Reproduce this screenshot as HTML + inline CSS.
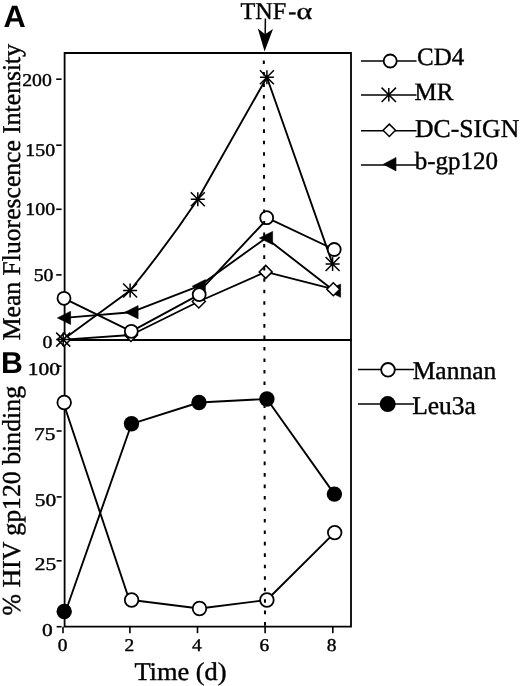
<!DOCTYPE html><html><head><meta charset="utf-8"><style>html,body{margin:0;padding:0;background:#fff;}svg{display:block;filter:grayscale(1)}text{text-rendering:geometricPrecision}</style></head><body>
<svg width="520" height="686" viewBox="0 0 520 686">
<rect width="520" height="686" fill="#fff"/>
<text x="3.4" y="27.4" font-family="Liberation Sans" font-weight="bold" font-size="30.8">A</text>
<text x="1.0" y="373.2" font-family="Liberation Sans" font-weight="bold" font-size="30.3">B</text>
<text x="240.4" y="18.6" font-family="Liberation Serif" stroke="#000" stroke-width="0.4" font-size="24.2">TNF</text>
<text x="288.3" y="18.6" font-family="Liberation Serif" stroke="#000" stroke-width="0.4" font-size="24.2">-</text>
<text transform="translate(296.6,18.7) scale(1.2,0.94)" font-family="Liberation Serif" stroke="#000" stroke-width="0.4" font-size="25">α</text>
<path d="M265.4 18.5L265.2 34" stroke="#000" stroke-width="1.5"/>
<path d="M257.8 28.4L265.1 34.3L273 29L264.6 51.6Z" fill="#000"/>
<path d="M64.6 53H351V340H64.6Z" fill="none" stroke="#000" stroke-width="1.8"/>
<path d="M64.6 340V626.7H351V340" fill="none" stroke="#000" stroke-width="1.8"/>
<path d="M56.2 79.2H61.6" stroke="#000" stroke-width="1.6"/>
<path d="M56.2 145.2H61.6" stroke="#000" stroke-width="1.6"/>
<path d="M56.2 209.3H61.6" stroke="#000" stroke-width="1.6"/>
<path d="M56.2 274.9H61.6" stroke="#000" stroke-width="1.6"/>
<path d="M56.6 366.2H61.6" stroke="#000" stroke-width="1.6"/>
<path d="M56.6 431.0H61.6" stroke="#000" stroke-width="1.6"/>
<path d="M56.6 496.9H61.6" stroke="#000" stroke-width="1.6"/>
<path d="M56.6 560.8H61.6" stroke="#000" stroke-width="1.6"/>
<path d="M56.6 626.7H61.6" stroke="#000" stroke-width="1.6"/>
<path d="M63.0 626.7V633.2" stroke="#000" stroke-width="1.6"/>
<path d="M129.9 626.7V633.2" stroke="#000" stroke-width="1.6"/>
<path d="M197.5 626.7V633.2" stroke="#000" stroke-width="1.6"/>
<path d="M265.1 626.7V633.2" stroke="#000" stroke-width="1.6"/>
<path d="M332.8 626.7V633.2" stroke="#000" stroke-width="1.6"/>
<text transform="translate(37.05,86.20) scale(1.100,1)" font-family="Liberation Serif" stroke="#000" stroke-width="0.4" font-size="18" text-anchor="middle">200</text>
<text transform="translate(40.20,156.00) scale(1.100,1)" font-family="Liberation Serif" stroke="#000" stroke-width="0.4" font-size="18" text-anchor="middle">150</text>
<text transform="translate(40.20,215.30) scale(1.100,1)" font-family="Liberation Serif" stroke="#000" stroke-width="0.4" font-size="18" text-anchor="middle">100</text>
<text transform="translate(43.55,281.20) scale(1.100,1)" font-family="Liberation Serif" stroke="#000" stroke-width="0.4" font-size="18" text-anchor="middle">50</text>
<text transform="translate(47.40,347.70) scale(1.100,1)" font-family="Liberation Serif" stroke="#000" stroke-width="0.4" font-size="18" text-anchor="middle">0</text>
<text transform="translate(43.80,375.10) scale(1.190,1)" font-family="Liberation Serif" stroke="#000" stroke-width="0.4" font-size="18" text-anchor="middle">100</text>
<text transform="translate(44.80,440.30) scale(1.190,1)" font-family="Liberation Serif" stroke="#000" stroke-width="0.4" font-size="18" text-anchor="middle">75</text>
<text transform="translate(45.50,505.80) scale(1.190,1)" font-family="Liberation Serif" stroke="#000" stroke-width="0.4" font-size="18" text-anchor="middle">50</text>
<text transform="translate(45.50,570.30) scale(1.190,1)" font-family="Liberation Serif" stroke="#000" stroke-width="0.4" font-size="18" text-anchor="middle">25</text>
<text transform="translate(47.40,635.80) scale(1.190,1)" font-family="Liberation Serif" stroke="#000" stroke-width="0.4" font-size="18" text-anchor="middle">0</text>
<text transform="translate(62.50,651.20) scale(1.080,1)" font-family="Liberation Serif" stroke="#000" stroke-width="0.4" font-size="18" text-anchor="middle">0</text>
<text transform="translate(129.35,651.20) scale(1.080,1)" font-family="Liberation Serif" stroke="#000" stroke-width="0.4" font-size="18" text-anchor="middle">2</text>
<text transform="translate(196.90,651.20) scale(1.080,1)" font-family="Liberation Serif" stroke="#000" stroke-width="0.4" font-size="18" text-anchor="middle">4</text>
<text transform="translate(264.40,651.20) scale(1.080,1)" font-family="Liberation Serif" stroke="#000" stroke-width="0.4" font-size="18" text-anchor="middle">6</text>
<text transform="translate(331.65,651.20) scale(1.080,1)" font-family="Liberation Serif" stroke="#000" stroke-width="0.4" font-size="18" text-anchor="middle">8</text>
<text transform="translate(20.4,340.2) rotate(-90)" font-family="Liberation Serif" stroke="#000" stroke-width="0.4" font-size="25.65">Mean Fluorescence Intensity</text>
<text transform="translate(20,615.5) rotate(-90)" font-family="Liberation Serif" stroke="#000" stroke-width="0.4" font-size="25.8">% HIV gp120 binding</text>
<text transform="translate(134.4,679.7) scale(1.035,1)" x="0" y="0" font-family="Liberation Serif" stroke="#000" stroke-width="0.4" font-size="25.5">Time (d)</text>
<path d="M64.0 317.9L131.5 312.2" stroke="#000" stroke-width="1.9" stroke-linecap="round"/>
<path d="M131.5 312.2L198.8 286.2" stroke="#000" stroke-width="1.9" stroke-linecap="round"/>
<path d="M198.8 286.2L266.0 238.0" stroke="#000" stroke-width="1.9" stroke-linecap="round"/>
<path d="M266.0 238.0L334.0 290.7" stroke="#000" stroke-width="1.9" stroke-linecap="round"/>
<path d="M64.0 339.6L131.0 335.0" stroke="#000" stroke-width="1.9" stroke-linecap="round"/>
<path d="M131.0 335.0L198.8 301.5" stroke="#000" stroke-width="1.9" stroke-linecap="round"/>
<path d="M198.8 301.5L265.7 271.9" stroke="#000" stroke-width="1.9" stroke-linecap="round"/>
<path d="M265.7 271.9L333.3 289.2" stroke="#000" stroke-width="1.9" stroke-linecap="round"/>
<path d="M63.2 339.6L130.1 290.5" stroke="#000" stroke-width="1.9" stroke-linecap="round"/>
<path d="M130.1 290.5Q166.0 246.5 197.8 199.2" fill="none" stroke="#000" stroke-width="1.9" stroke-linecap="round"/>
<path d="M197.8 199.2L266.9 77.2" stroke="#000" stroke-width="1.9" stroke-linecap="round"/>
<path d="M266.9 77.2L332.6 264.0" stroke="#000" stroke-width="1.9" stroke-linecap="round"/>
<path d="M64.0 298.3L131.3 331.3" stroke="#000" stroke-width="1.9" stroke-linecap="round"/>
<path d="M131.3 331.3L199.2 294.6" stroke="#000" stroke-width="1.9" stroke-linecap="round"/>
<path d="M199.2 291.6L266.7 219.5" stroke="#000" stroke-width="1.9" stroke-linecap="round"/>
<path d="M266.7 217.7L334.2 249.5" stroke="#000" stroke-width="1.9" stroke-linecap="round"/>
<path d="M57.4 317.9L70.6 311.3L70.6 324.5Z" fill="#000" stroke="#000" stroke-width="0.6" stroke-linejoin="miter"/>
<path d="M124.9 312.2L138.1 305.6L138.1 318.8Z" fill="#000" stroke="#000" stroke-width="0.6" stroke-linejoin="miter"/>
<path d="M192.2 286.2L205.4 279.6L205.4 292.8Z" fill="#000" stroke="#000" stroke-width="0.6" stroke-linejoin="miter"/>
<path d="M259.4 238.0L272.6 231.4L272.6 244.6Z" fill="#000" stroke="#000" stroke-width="0.6" stroke-linejoin="miter"/>
<path d="M327.4 290.7L340.6 284.1L340.6 297.3Z" fill="#000" stroke="#000" stroke-width="0.6" stroke-linejoin="miter"/>
<path d="M64.0 333.1L70.5 339.6L64.0 346.1L57.5 339.6Z" fill="#fff" stroke="#000" stroke-width="1.5"/>
<path d="M131.0 328.5L137.5 335.0L131.0 341.5L124.5 335.0Z" fill="#fff" stroke="#000" stroke-width="1.5"/>
<path d="M198.8 295.0L205.3 301.5L198.8 308.0L192.3 301.5Z" fill="#fff" stroke="#000" stroke-width="1.5"/>
<path d="M265.7 265.4L272.2 271.9L265.7 278.4L259.2 271.9Z" fill="#fff" stroke="#000" stroke-width="1.5"/>
<path d="M333.3 282.7L339.8 289.2L333.3 295.7L326.8 289.2Z" fill="#fff" stroke="#000" stroke-width="1.5"/>
<path d="M63.2 332.6L63.2 346.6M56.2 339.6L70.2 339.6M56.2 332.6L70.2 346.6M56.2 346.6L70.2 332.6" stroke="#000" stroke-width="1.5" fill="none"/>
<path d="M130.1 283.5L130.1 297.5M123.1 290.5L137.1 290.5M123.1 283.5L137.1 297.5M123.1 297.5L137.1 283.5" stroke="#000" stroke-width="1.5" fill="none"/>
<path d="M197.8 192.2L197.8 206.2M190.8 199.2L204.8 199.2M190.8 192.2L204.8 206.2M190.8 206.2L204.8 192.2" stroke="#000" stroke-width="1.5" fill="none"/>
<path d="M266.9 70.2L266.9 84.2M259.9 77.2L273.9 77.2M259.9 70.2L273.9 84.2M259.9 84.2L273.9 70.2" stroke="#000" stroke-width="1.5" fill="none"/>
<path d="M332.6 257.0L332.6 271.0M325.6 264.0L339.6 264.0M325.6 257.0L339.6 271.0M325.6 271.0L339.6 257.0" stroke="#000" stroke-width="1.5" fill="none"/>
<circle cx="64.0" cy="298.3" r="6.5" fill="#fff" stroke="#000" stroke-width="1.8"/>
<circle cx="131.3" cy="331.3" r="6.5" fill="#fff" stroke="#000" stroke-width="1.8"/>
<circle cx="199.2" cy="294.6" r="6.5" fill="#fff" stroke="#000" stroke-width="1.8"/>
<circle cx="266.7" cy="217.7" r="6.5" fill="#fff" stroke="#000" stroke-width="1.8"/>
<circle cx="334.2" cy="249.5" r="6.5" fill="#fff" stroke="#000" stroke-width="1.8"/>
<path d="M63.3 402.5L129.3 600.0" stroke="#000" stroke-width="1.9" stroke-linecap="round"/>
<path d="M131.6 600.0L199.5 608.5" stroke="#000" stroke-width="1.9" stroke-linecap="round"/>
<path d="M199.5 608.5L266.9 600.0" stroke="#000" stroke-width="1.9" stroke-linecap="round"/>
<path d="M266.9 600.0L334.7 532.6" stroke="#000" stroke-width="1.9" stroke-linecap="round"/>
<path d="M65.6 611.5L131.6 423.8" stroke="#000" stroke-width="1.9" stroke-linecap="round"/>
<path d="M131.5 423.8L199.0 402.5" stroke="#000" stroke-width="1.9" stroke-linecap="round"/>
<path d="M199.0 402.5L266.9 399.0" stroke="#000" stroke-width="1.9" stroke-linecap="round"/>
<path d="M266.9 399.0L334.4 494.1" stroke="#000" stroke-width="1.9" stroke-linecap="round"/>
<circle cx="64.2" cy="402.5" r="6.8" fill="#fff" stroke="#000" stroke-width="1.8"/>
<circle cx="131.6" cy="600.0" r="6.8" fill="#fff" stroke="#000" stroke-width="1.8"/>
<circle cx="199.5" cy="608.5" r="6.8" fill="#fff" stroke="#000" stroke-width="1.8"/>
<circle cx="266.9" cy="600.0" r="6.8" fill="#fff" stroke="#000" stroke-width="1.8"/>
<circle cx="334.7" cy="532.6" r="6.8" fill="#fff" stroke="#000" stroke-width="1.8"/>
<circle cx="64.2" cy="611.5" r="7.7" fill="#000"/>
<circle cx="131.5" cy="423.8" r="7.7" fill="#000"/>
<circle cx="199.0" cy="402.5" r="7.7" fill="#000"/>
<circle cx="266.9" cy="399.0" r="7.7" fill="#000"/>
<circle cx="334.4" cy="494.1" r="7.7" fill="#000"/>
<path d="M263.8 53L265.0 626.7" stroke="#000" stroke-width="2" stroke-dasharray="3.6 7.86" stroke-dashoffset="3.94"/>
<path d="M361 61.0H416.5" stroke="#000" stroke-width="1.5"/>
<text x="417.0" y="64.9" font-family="Liberation Serif" stroke="#000" stroke-width="0.4" font-size="25">CD4</text>
<path d="M361 95.0H416.5" stroke="#000" stroke-width="1.5"/>
<text x="414.5" y="100.2" font-family="Liberation Serif" stroke="#000" stroke-width="0.4" font-size="25">MR</text>
<path d="M361 130.7H416.5" stroke="#000" stroke-width="1.5"/>
<text x="415.0" y="136.6" font-family="Liberation Serif" stroke="#000" stroke-width="0.4" font-size="25.7">DC-SIGN</text>
<path d="M361 165.0H416.5" stroke="#000" stroke-width="1.5"/>
<text x="414.8" y="169.3" font-family="Liberation Serif" stroke="#000" stroke-width="0.4" font-size="25">b-gp120</text>
<circle cx="390.2" cy="61.0" r="6.5" fill="#fff" stroke="#000" stroke-width="1.8"/>
<path d="M388.8 88.0L388.8 101.6M381.6 87.6L396.0 102.0M381.6 102.0L396.0 87.6" stroke="#000" stroke-width="1.5" fill="none"/>
<path d="M389.3 124.1L395.5 130.3L389.3 136.5L383.1 130.3Z" fill="#fff" stroke="#000" stroke-width="1.5"/>
<path d="M383.4 164.2L396.0 157.5L396.0 170.9Z" fill="#000" stroke="#000" stroke-width="0.6" stroke-linejoin="miter"/>
<path d="M358 369.6H414" stroke="#000" stroke-width="1.5"/>
<text x="412.7" y="379.0" font-family="Liberation Serif" stroke="#000" stroke-width="0.4" font-size="25.5">Mannan</text>
<path d="M358 404.1H414" stroke="#000" stroke-width="1.5"/>
<text x="412.2" y="413.5" font-family="Liberation Serif" stroke="#000" stroke-width="0.4" font-size="25.5">Leu3a</text>
<circle cx="388.0" cy="369.8" r="6.8" fill="#fff" stroke="#000" stroke-width="1.8"/>
<circle cx="387.7" cy="404.1" r="8.0" fill="#000"/>
</svg></body></html>
